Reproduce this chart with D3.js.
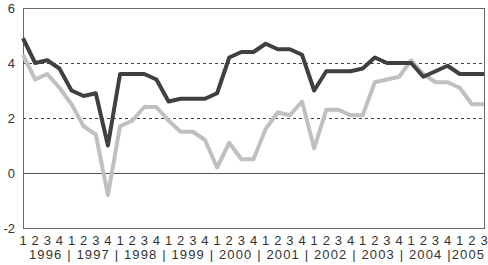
<!DOCTYPE html>
<html>
<head>
<meta charset="utf-8">
<script src="https://cdn.jsdelivr.net/npm/d3@7"></script>
<style>
  body { margin: 0; background: #fff; }
  svg { display: block; }
  text { font-family: "Liberation Sans", Arial, sans-serif; fill: #333; }
</style>
</head>
<body>
<svg id="chart"></svg>
<script>
// quarters 1996Q1 .. 2005Q3
const years = ["1996", "1997", "1998", "1999", "2000", "2001", "2002", "2003", "2004", "2005"];
const quarters = [];
years.forEach(y => ["1", "2", "3", "4"].forEach(q => quarters.push(y + "Q" + q)));
quarters.splice(39);

const darkSeries = [4.9, 4.0, 4.1, 3.8, 3.0, 2.8, 2.9, 1.0, 3.6, 3.6, 3.6, 3.4,
  2.6, 2.7, 2.7, 2.7, 2.9, 4.2, 4.4, 4.4, 4.7, 4.5, 4.5, 4.3,
  3.0, 3.7, 3.7, 3.7, 3.8, 4.2, 4.0, 4.0, 4.0, 3.5, 3.7, 3.9, 3.6, 3.6, 3.6];
const lightSeries = [4.3, 3.4, 3.6, 3.1, 2.5, 1.7, 1.4, -0.8, 1.7, 1.9, 2.4, 2.4,
  1.9, 1.5, 1.5, 1.2, 0.2, 1.1, 0.5, 0.5, 1.6, 2.2, 2.1, 2.6,
  0.9, 2.3, 2.3, 2.1, 2.1, 3.3, 3.4, 3.5, 4.1, 3.6, 3.3, 3.3, 3.1, 2.5, 2.5];
const yTicks = [-2, 0, 2, 4, 6];
const yearLabel = "1996 | 1997 | 1998 | 1999 | 2000 | 2001 | 2002 | 2003 | 2004 |2005";

const w = 488, h = 265;
const pL = 23, pR = 484, pT = 8, pB = 228;

const svg = d3.select("#chart").attr("width", w).attr("height", h);

const x = d3.scalePoint().domain(quarters).range([pL, pR]);
const y = d3.scaleLinear().domain([-2, 6]).range([pB, pT]);

// dashed grid at 2 and 4
svg.selectAll("line.grid")
  .data([2, 4])
  .enter().append("line")
  .attr("x1", pL).attr("x2", pR)
  .attr("y1", d => Math.round(y(d)) + 0.5).attr("y2", d => Math.round(y(d)) + 0.5)
  .attr("stroke", "#444")
  .attr("stroke-dasharray", "3,3");

// zero line
svg.append("line")
  .attr("x1", pL).attr("x2", pR)
  .attr("y1", Math.round(y(0)) + 0.5).attr("y2", Math.round(y(0)) + 0.5)
  .attr("stroke", "#555");

// plot frame
svg.append("rect")
  .attr("x", pL + 0.5).attr("y", pT + 0.5)
  .attr("width", pR - pL).attr("height", pB - pT)
  .attr("fill", "none")
  .attr("stroke", "#666");

const line = d3.line()
  .x((d, i) => x(quarters[i]))
  .y(d => y(d));

svg.append("path")
  .datum(lightSeries)
  .attr("d", line)
  .attr("fill", "none")
  .attr("stroke", "#c0c0c0")
  .attr("stroke-width", 4)
  .attr("stroke-linejoin", "round");

svg.append("path")
  .datum(darkSeries)
  .attr("d", line)
  .attr("fill", "none")
  .attr("stroke", "#404040")
  .attr("stroke-width", 4)
  .attr("stroke-linejoin", "round");

// y tick labels
svg.selectAll("text.ytick")
  .data(yTicks)
  .enter().append("text")
  .attr("x", 15)
  .attr("y", d => y(d) + 4.5)
  .attr("text-anchor", "end")
  .attr("font-size", 13)
  .text(d => d);

// quarter labels
svg.selectAll("text.qtick")
  .data(quarters)
  .enter().append("text")
  .attr("x", d => x(d))
  .attr("y", 245)
  .attr("text-anchor", "middle")
  .attr("font-size", 13)
  .text(d => d.slice(-1));

// year row
svg.append("text")
  .attr("x", 29)
  .attr("y", 259)
  .attr("font-size", 13)
  .attr("textLength", 455)
  .attr("lengthAdjust", "spacing")
  .text(yearLabel);
</script>
</body>
</html>
